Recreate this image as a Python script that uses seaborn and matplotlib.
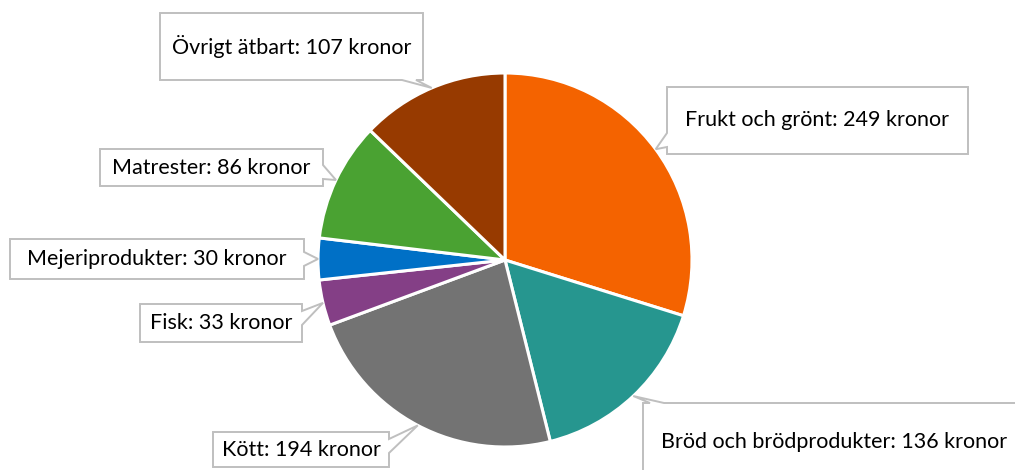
import numpy as np
import seaborn as sns
import matplotlib.pyplot as plt
from matplotlib.patches import Polygon

# data
categories = ["Frukt och grönt", "Bröd och brödprodukter", "Kött", "Fisk",
              "Mejeriprodukter", "Matrester", "Övrigt ätbart"]
values = [249, 136, 194, 33, 30, 86, 107]
colors = ["#F46300", "#26968F", "#737373", "#843F86",
          "#0070C6", "#4AA232", "#973A00"]

W, H = 1015, 470
# label boxes in pixel coords (x0, top, x1, bottom) and which side the tail leaves from
boxes = [(667, 87, 968, 154), (643, 403, 1025, 481), (213, 432, 389, 467),
         (140, 304, 302, 342), (10, 239, 304, 279), (100, 149, 323, 186),
         (160, 13, 423, 80)]
sides = ["left", "top", "right", "right", "right", "right", "bottom"]

sns.set_theme(style="white")
plt.rcParams['font.family'] = ['Lato', 'DejaVu Sans']

fig = plt.figure(figsize=(W / 100, H / 100), dpi=100)
ax = fig.add_axes([0, 0, 1, 1])

cx, cy, r = 505, H - 260, 187
wedges, _ = ax.pie(values, colors=sns.color_palette(colors), startangle=90,
                   counterclock=False, center=(cx, cy), radius=r, frame=True,
                   wedgeprops=dict(edgecolor="white", linewidth=2.2))
ax.set_xlim(0, W)
ax.set_ylim(0, H)
ax.axis('off')


def callout(box, side, tip, w=14):
    x0, top, x1, bot = box
    y0, y1 = H - bot, H - top
    tx, ty = tip
    BL, BR, TR, TL = (x0, y0), (x1, y0), (x1, y1), (x0, y1)
    if side in ("bottom", "top"):
        c = np.clip(tx, x0 + w, x1 - w)
        yy = y0 if side == "bottom" else y1
        a, b = (c - w / 2, yy), (c + w / 2, yy)
        pts = [BL, a, tip, b, BR, TR, TL] if side == "bottom" else [BL, BR, TR, b, tip, a, TL]
    else:
        c = np.clip(ty, y0 + w, y1 - w)
        xx = x1 if side == "right" else x0
        a, b = (xx, c - w / 2), (xx, c + w / 2)
        pts = [BL, BR, a, tip, b, TR, TL] if side == "right" else [BL, BR, TR, TL, b, tip, a]
    ax.add_patch(Polygon(pts, closed=True, facecolor="white", edgecolor="#BFBFBF",
                         linewidth=1.4, zorder=3))
    return (x0 + x1) / 2, (y0 + y1) / 2


for wdg, name, val, box, side in zip(wedges, categories, values, boxes, sides):
    mid = np.deg2rad((wdg.theta1 + wdg.theta2) / 2)
    tip = (cx + r * np.cos(mid), cy + r * np.sin(mid))
    tx, ty = callout(box, side, tip)
    ax.text(tx, ty, f"{name}: {val} kronor", ha="center", va="center",
            fontsize=15.5, color="black", zorder=4)

fig.savefig("out.png", dpi=100)
